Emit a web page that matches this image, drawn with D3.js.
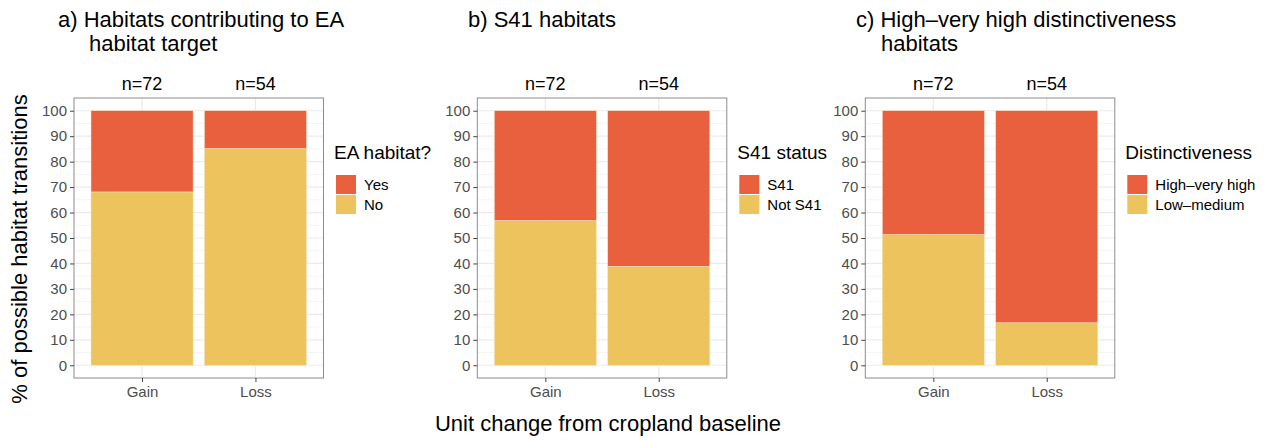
<!DOCTYPE html>
<html>
<head>
<meta charset="utf-8">
<script src="https://cdn.jsdelivr.net/npm/d3@7"></script>
<style>
  body { margin: 0; background: #fff; }
  text { font-family: "Liberation Sans", Arial, Helvetica, sans-serif; }
</style>
</head>
<body>
<div id="chart-area"></div>
<script>
// data (percent of possible transitions)
const categories = ["Gain", "Loss"];
const nLabels = ["n=72", "n=54"];
const yTicks = [0, 10, 20, 30, 40, 50, 60, 70, 80, 90, 100];

const eaYes = [31.9, 14.8];
const eaNo = [68.1, 85.2];
const s41Yes = [43.1, 61.1];
const s41No = [56.9, 38.9];
const distHigh = [48.6, 83.3];
const distLow = [51.4, 16.7];

const svgWidth = 1275, svgHeight = 441;
const red = "#E8603E", yellow = "#ECC35C";

const panels = [
  { title: ["a) Habitats contributing to EA", "habitat target"], tx: [58, 89], left: 74,
    legendTitle: "EA habitat?", keys: ["Yes", "No"], upper: eaYes, lower: eaNo },
  { title: ["b) S41 habitats"], tx: [468], left: 477.3,
    legendTitle: "S41 status", keys: ["S41", "Not S41"], upper: s41Yes, lower: s41No },
  { title: ["c) High\u2013very high distinctiveness", "habitats"], tx: [856, 881], left: 865.3,
    legendTitle: "Distinctiveness", keys: ["High\u2013very high", "Low\u2013medium"], upper: distHigh, lower: distLow }
];

const panelW = 249.5, plotTop = 98, plotBottom = 378;

var svg = d3.select("#chart-area")
  .append("svg")
    .attr("width", svgWidth)
    .attr("height", svgHeight);

// shared y scale (ggplot style 5% expansion)
var y = d3.scaleLinear().domain([-5, 105]).range([plotBottom, plotTop]);

panels.forEach(function(p) {
  var g = svg.append("g");

  // discrete x: expansion of 0.6 each side, bar width 0.9
  var x = d3.scaleLinear().domain([0.4, 2.6]).range([p.left, p.left + panelW]);
  var bw = x(1.45) - x(1.0);

  // title
  p.title.forEach(function(t, i) {
    g.append("text")
      .attr("x", p.tx[i])
      .attr("y", 27 + i * 24)
      .attr("font-size", "22px")
      .attr("fill", "#000")
      .text(t);
  });

  // minor grid
  d3.range(5, 100, 10).forEach(function(v) {
    g.append("line")
      .attr("x1", p.left).attr("x2", p.left + panelW)
      .attr("y1", y(v)).attr("y2", y(v))
      .attr("stroke", "#F4F4F4").attr("stroke-width", 1);
  });
  // major grid
  yTicks.forEach(function(v) {
    g.append("line")
      .attr("x1", p.left).attr("x2", p.left + panelW)
      .attr("y1", y(v)).attr("y2", y(v))
      .attr("stroke", "#EBEBEB").attr("stroke-width", 1.2);
  });
  categories.forEach(function(c, i) {
    g.append("line")
      .attr("x1", x(i + 1)).attr("x2", x(i + 1))
      .attr("y1", plotTop).attr("y2", plotBottom)
      .attr("stroke", "#EBEBEB").attr("stroke-width", 1.2);
  });

  // stacked bars
  var rows = categories.map(function(c, i) {
    return { cat: c, idx: i + 1, lower: p.lower[i], upper: p.upper[i] };
  });
  var stack = d3.stack().keys(["lower", "upper"])(rows);
  var colors = { lower: yellow, upper: red };

  stack.forEach(function(layer) {
    g.selectAll(null)
      .data(layer)
      .enter()
      .append("rect")
        .attr("x", function(d) { return x(d.data.idx) - bw; })
        .attr("width", 2 * bw)
        .attr("y", function(d) { return y(d[1]); })
        .attr("height", function(d) { return y(d[0]) - y(d[1]); })
        .attr("fill", colors[layer.key])
        .attr("stroke", "#F6E3C4")
        .attr("stroke-width", 0.5);
  });

  // panel border
  g.append("rect")
    .attr("x", p.left).attr("y", plotTop)
    .attr("width", panelW).attr("height", plotBottom - plotTop)
    .attr("fill", "none")
    .attr("stroke", "#8C8C8C")
    .attr("stroke-width", 1);

  // y axis
  var yAxis = d3.axisLeft(y).tickValues(yTicks).tickSize(4).tickPadding(3);
  var ya = g.append("g")
    .attr("transform", "translate(" + p.left + ",0)")
    .call(yAxis);
  ya.select(".domain").remove();
  ya.selectAll("line").attr("stroke", "#444");
  ya.selectAll("text").attr("font-size", "15px").attr("fill", "#4D4D4D")
    .attr("font-family", "Liberation Sans, Arial, sans-serif");

  // x axis
  var xAxis = d3.axisBottom(x).tickValues([1, 2])
    .tickFormat(function(d) { return categories[d - 1]; })
    .tickSize(4).tickPadding(4);
  var xa = g.append("g")
    .attr("transform", "translate(0," + plotBottom + ")")
    .call(xAxis);
  xa.select(".domain").remove();
  xa.selectAll("line").attr("stroke", "#444");
  xa.selectAll("text").attr("font-size", "15px").attr("fill", "#4D4D4D")
    .attr("font-family", "Liberation Sans, Arial, sans-serif");

  // n labels
  g.selectAll(null)
    .data(nLabels)
    .enter()
    .append("text")
      .attr("x", function(d, i) { return x(i + 1); })
      .attr("y", 90)
      .attr("text-anchor", "middle")
      .attr("font-size", "18px")
      .attr("fill", "#000")
      .text(function(d) { return d; });

  // legend
  var lx = p.left + panelW + 12.5;
  g.append("text")
    .attr("x", lx - 2)
    .attr("y", 159)
    .attr("font-size", "19px")
    .attr("fill", "#000")
    .text(p.legendTitle);
  var keyColors = [red, yellow];
  p.keys.forEach(function(k, i) {
    g.append("rect")
      .attr("x", lx).attr("y", 175 + i * 20)
      .attr("width", 20).attr("height", 19)
      .attr("fill", keyColors[i]);
    g.append("text")
      .attr("x", lx + 28).attr("y", 175 + i * 20 + 15)
      .attr("font-size", "15px")
      .attr("fill", "#000")
      .text(k);
  });
});

// shared axis titles
svg.append("text")
  .attr("x", 608)
  .attr("y", 431)
  .attr("text-anchor", "middle")
  .attr("font-size", "22px")
  .text("Unit change from cropland baseline");

svg.append("text")
  .attr("transform", "translate(27,249) rotate(-90)")
  .attr("text-anchor", "middle")
  .attr("font-size", "22px")
  .text("% of possible habitat transitions");
</script>
</body>
</html>
